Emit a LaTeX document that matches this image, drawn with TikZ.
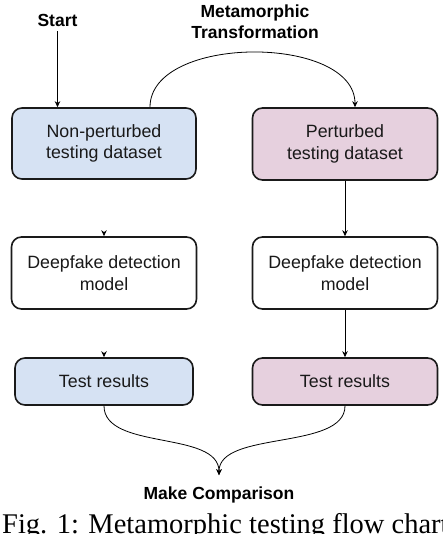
\documentclass[tikz,border=0pt]{standalone}
\usepackage{fontspec}
\setmainfont{Liberation Sans}
\newfontfamily\capfont{Liberation Serif}
\usetikzlibrary{arrows.meta}
\definecolor{bluefill}{HTML}{D6E2F3}
\definecolor{pinkfill}{HTML}{E6D0DE}
\definecolor{boxline}{HTML}{1A1A1A}
\tikzset{
  box/.style={draw=boxline, line width=1.6pt, rounded corners=10pt, align=center,
    font=\fontsize{17.8}{21.5}\selectfont, text=black!90, inner sep=0pt},
  lbl/.style={font=\fontsize{17.5}{21}\selectfont\bfseries, align=center, inner sep=0pt},
  conn/.style={line width=0.8pt, -{Stealth[length=6pt,width=5.5pt]}},
  ghost/.style={line width=0.8pt, draw=white, shorten <=2pt, -{Stealth[length=6pt,width=5.5pt,color=black]}}
}
\begin{document}
\begin{tikzpicture}[x=1pt,y=-1pt]
\useasboundingbox (0,0) rectangle (442,534);
\clip (0,0) rectangle (442,534);
\fill[white] (0,0) rectangle (442,534);
% boxes
\node[box, fill=bluefill, minimum width=184pt, minimum height=71pt] (np) at (104,143.5) {Non-perturbed\\testing dataset};
\node[box, fill=pinkfill, minimum width=185pt, minimum height=72pt] (pp) at (345,144) {Perturbed\\testing dataset};
\node[box, fill=white, minimum width=185pt, minimum height=72pt] (dl) at (104,273) {Deepfake detection\\model};
\node[box, fill=white, minimum width=185pt, minimum height=72pt] (dr) at (345,273) {Deepfake detection\\model};
\node[box, fill=bluefill, minimum width=178pt, minimum height=47pt] (tl) at (104,381.5) {Test results};
\node[box, fill=pinkfill, minimum width=185pt, minimum height=47pt] (tr) at (345,381.5) {Test results};
% labels
\node[lbl, anchor=base, inner ysep=4pt] (start) at (57.5,27) {Start};
\node[lbl, anchor=north] (mt) at (255,5) {Metamorphic\\Transformation};
\node[lbl, anchor=base, inner ysep=11pt] (mc) at (219,499) {Make Comparison};
\node[anchor=base west, inner sep=0pt, font=\capfont\fontsize{28.5}{30}\selectfont] (cap) at (2,533) {Fig. 1: Metamorphic testing flow chart};
% connectors
\draw[conn] (start.south) -- (start.south |- np.north);
\draw[conn] ([xshift=46pt]np.north) .. controls ([xshift=46pt,yshift=73pt]np.north) and ([xshift=10pt,yshift=73pt]pp.north) .. ([xshift=10pt]pp.north);
\draw[ghost] (np.south) -- (dl.north);
\draw[ghost] (dl.south) -- (tl.north);
\draw[conn] (pp.south) -- (dr.north);
\draw[conn] (dr.south) -- (tr.north);
\draw[conn] (tl.south) .. controls ([yshift=-45pt]tl.south) and ([yshift=45pt]mc.north) .. (mc.north);
\draw[conn] (tr.south) .. controls ([yshift=-45pt]tr.south) and ([yshift=45pt]mc.north) .. (mc.north);
\end{tikzpicture}
\end{document}
